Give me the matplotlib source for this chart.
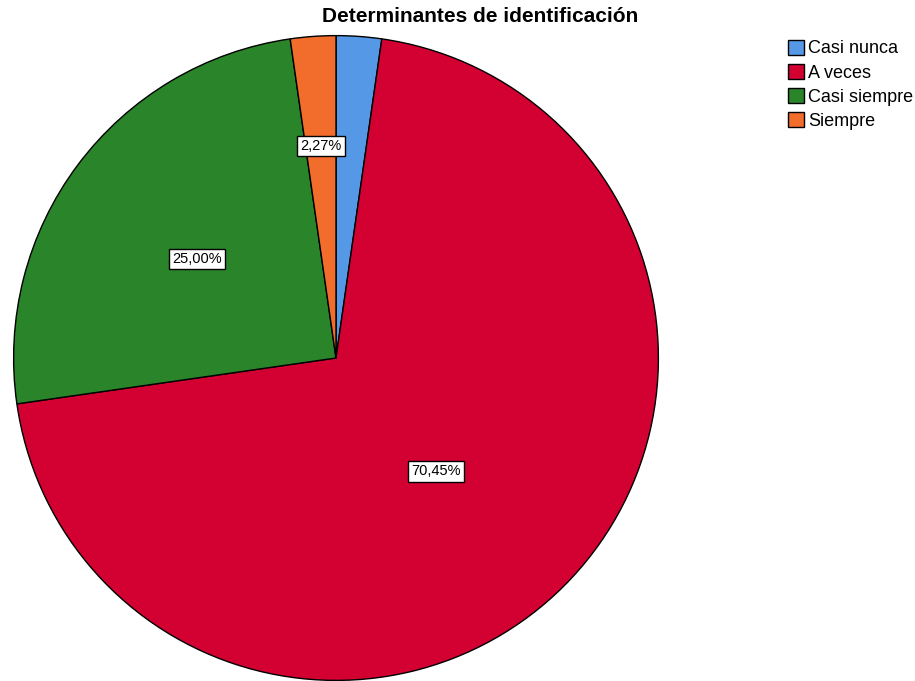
import numpy as np
import matplotlib.pyplot as plt
from matplotlib.patches import Patch

categories = ["Casi nunca", "A veces", "Casi siempre", "Siempre"]
percent = [2.27, 70.45, 25.00, 2.27]
colors = ["#5599e6", "#d30032", "#2a8429", "#f26d2c"]
# which slices get a label and where (fraction of radius, angle shift in deg)
show_label = [False, True, True, True]
label_dist = [0.6, 0.47, 0.53, 0.66]
label_shift = [0, -3.5, 1.3, 0]

plt.rcParams["font.family"] = ["Liberation Sans", "DejaVu Sans"]

fig = plt.figure(figsize=(9.15, 6.81), dpi=100)
ax = fig.add_axes([12 / 915, -1 / 681, 648 / 915, 648 / 681])

wedges, _ = ax.pie(
    percent,
    colors=colors,
    startangle=90,
    counterclock=False,
    radius=1,
    wedgeprops=dict(edgecolor="black", linewidth=1),
)
ax.set_xlim(-1.005, 1.005)
ax.set_ylim(-1.005, 1.005)
ax.set_aspect("equal")

for w, pct, show, d, s in zip(wedges, percent, show_label, label_dist, label_shift):
    if not show:
        continue
    mid = np.deg2rad((w.theta1 + w.theta2) / 2 + s)
    ax.text(
        d * np.cos(mid), d * np.sin(mid),
        f"{pct:.2f}%".replace(".", ","),
        ha="center", va="center", fontsize=10.5,
        bbox=dict(boxstyle="square,pad=0.22", facecolor="white", edgecolor="black", linewidth=1),
    )

fig.text(480 / 915, 1 - 17 / 681, "Determinantes de identificación",
         ha="center", va="center", fontsize=15, fontweight="bold")

handles = [Patch(facecolor=c, edgecolor="black", label=l) for c, l in zip(colors, categories)]
fig.legend(handles=handles, loc="upper left", bbox_to_anchor=(775 / 915, 1 - 27 / 681),
           frameon=False, fontsize=13, handlelength=0.9, handleheight=0.9,
           handletextpad=0.25, labelspacing=0.36, borderpad=0.2)

fig.savefig("out.png", dpi=100)
